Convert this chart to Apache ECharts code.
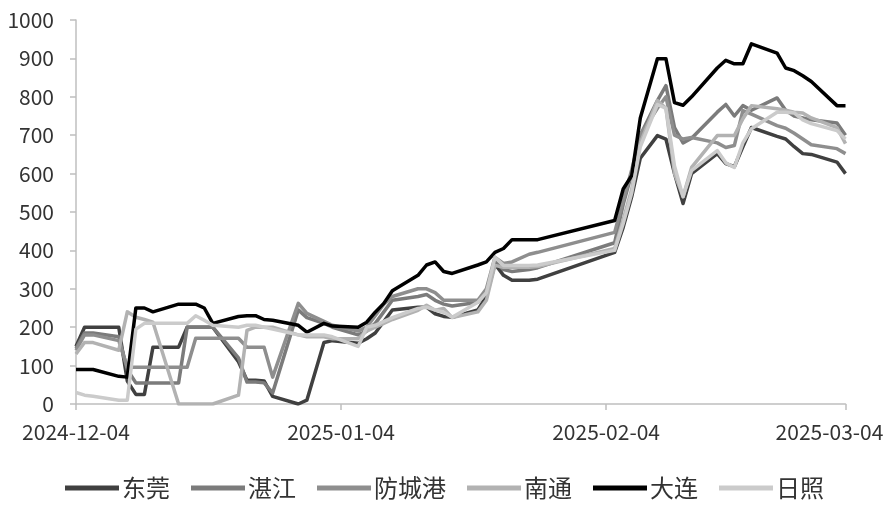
<!DOCTYPE html>
<html><head><meta charset="utf-8">
<script src="https://cdn.jsdelivr.net/npm/echarts@6/dist/echarts.min.js"></script>
<style>html,body{margin:0;padding:0;background:#fff}#c{width:889px;height:511px}</style>
</head><body><div id="c"></div>
<script>
const dates = ['2024-12-04','2024-12-05','2024-12-06','2024-12-09','2024-12-10','2024-12-11','2024-12-12','2024-12-13','2024-12-16','2024-12-17','2024-12-18','2024-12-19','2024-12-20','2024-12-23','2024-12-24','2024-12-25','2024-12-26','2024-12-27','2024-12-30','2024-12-31',
'2025-01-02','2025-01-03','2025-01-06','2025-01-07','2025-01-08','2025-01-09','2025-01-10','2025-01-13','2025-01-14','2025-01-15','2025-01-16','2025-01-17','2025-01-20','2025-01-21','2025-01-22','2025-01-23','2025-01-24','2025-01-26','2025-01-27',
'2025-02-05','2025-02-06','2025-02-07','2025-02-08','2025-02-10','2025-02-11','2025-02-12','2025-02-13','2025-02-14','2025-02-17','2025-02-18','2025-02-19','2025-02-20','2025-02-21','2025-02-24','2025-02-25','2025-02-26','2025-02-27','2025-02-28',
'2025-03-03','2025-03-04'];
const tickDates = ['2024-12-04','2025-01-04','2025-02-04','2025-03-04'];
const seriesNames = ['东莞','湛江','防城港','南通','大连','日照'];
const dongguan = [150,200,200,200,60,25,25,148,148,200,200,200,200,110,62,62,60,20,0,10,
160,165,158,170,185,215,245,252,252,235,228,226,245,280,365,335,322,322,325,
395,460,540,640,699,690,600,522,600,652,626,618,670,720,697,690,670,652,650,630,600];
const zhanjiang = [145,185,185,175,90,55,55,55,55,200,200,200,200,120,57,57,55,29,245,225,
210,200,180,190,210,240,270,280,285,270,260,255,265,290,370,350,345,350,355,
420,520,600,700,790,829,720,680,692,760,780,750,777,765,797,765,750,745,740,732,700];
const fangchenggang = [140,180,180,165,96,96,96,96,96,96,171,171,171,171,148,148,148,70,262,236,
215,205,190,200,230,260,280,300,300,290,270,270,270,300,382,366,370,390,395,
447,530,610,700,770,800,700,690,694,680,668,673,764,755,725,718,705,690,675,665,652];
const nantong = [130,160,160,140,240,226,220,213,0,0,0,0,0,23,192,200,200,200,180,175,
175,170,170,190,200,210,220,244,257,244,249,225,240,270,361,356,356,356,358,
405,480,560,680,790,770,600,540,616,699,699,699,743,777,769,765,760,758,745,720,678];
const dalian = [90,90,90,72,70,250,250,240,260,260,260,250,210,228,230,230,220,218,205,187,
210,203,200,213,239,262,295,335,362,370,345,340,362,370,395,405,428,428,428,
478,560,595,745,899,899,785,778,800,875,895,886,886,938,914,875,868,855,840,777,777];
const rizhao = [30,23,20,10,10,195,210,210,210,210,230,218,205,200,205,205,200,195,180,180,
180,175,150,200,205,215,225,249,252,245,239,226,265,290,382,361,361,361,362,
400,470,550,670,780,770,620,540,608,660,628,616,680,717,760,760,758,740,730,712,690];
const colors = ['#404040','#7b7b7b','#8e8e8e','#b2b2b2','#000000','#cbcbcb'];

const DAY = 86400000;
const t0 = Date.parse(tickDates[0] + 'T00:00:00Z');
const dayOf = d => Math.round((Date.parse(d + 'T00:00:00Z') - t0) / DAY);
const tickDays = tickDates.map(dayOf);
const allValues = [dongguan, zhanjiang, fangchenggang, nantong, dalian, rizhao];
const FONT = '"Noto Sans CJK SC", "Noto Sans", sans-serif';

const chart = echarts.init(document.getElementById('c'), null, {renderer: 'canvas'});
chart.setOption({
  animation: false,
  backgroundColor: '#fff',
  grid: {left: 76, right: 43.5, top: 20, bottom: 107},
  legend: {
    bottom: 6, left: 'center',
    icon: 'rect', itemWidth: 54, itemHeight: 5, itemGap: 21,
    textStyle: {fontSize: 24, color: '#333', fontFamily: FONT, padding: [0,0,0,-2]},
    data: seriesNames
  },
  xAxis: {
    type: 'value', min: tickDays[0], max: tickDays[tickDays.length - 1],
    axisLine: {lineStyle: {color: '#bfbfbf', width: 1.5}},
    axisTick: {show: true, length: 6, lineStyle: {color: '#bfbfbf', width: 1.5}, customValues: tickDays},
    splitLine: {show: false},
    axisLabel: {
      customValues: tickDays, margin: 18, fontSize: 21, color: '#333', fontFamily: FONT,
      formatter: v => {
        const i = tickDays.indexOf(Math.round(v));
        if (i < 0) return '';
        return i === tickDays.length - 1 ? '{r|' + tickDates[i] + '}' : tickDates[i];
      },
      rich: {r: {fontSize: 21, color: '#333', fontFamily: FONT, padding: [0, 32, 0, 0]}}
    }
  },
  yAxis: {
    type: 'value', min: 0, max: 1000, interval: 100,
    axisLine: {show: true, lineStyle: {color: '#bfbfbf', width: 1.5}},
    axisTick: {show: true, length: 6, lineStyle: {color: '#bfbfbf', width: 1.5}},
    splitLine: {show: false},
    axisLabel: {margin: 22, fontSize: 21, color: '#333', fontFamily: FONT, formatter: v => String(v)}
  },
  series: seriesNames.map((n, k) => ({
    name: n, type: 'line', symbol: 'none', smooth: false,
    color: colors[k],
    lineStyle: {width: 3.5, color: colors[k], join: 'round'},
    data: dates.map((d, i) => [dayOf(d), allValues[k][i]])
  }))
});
</script></body></html>
